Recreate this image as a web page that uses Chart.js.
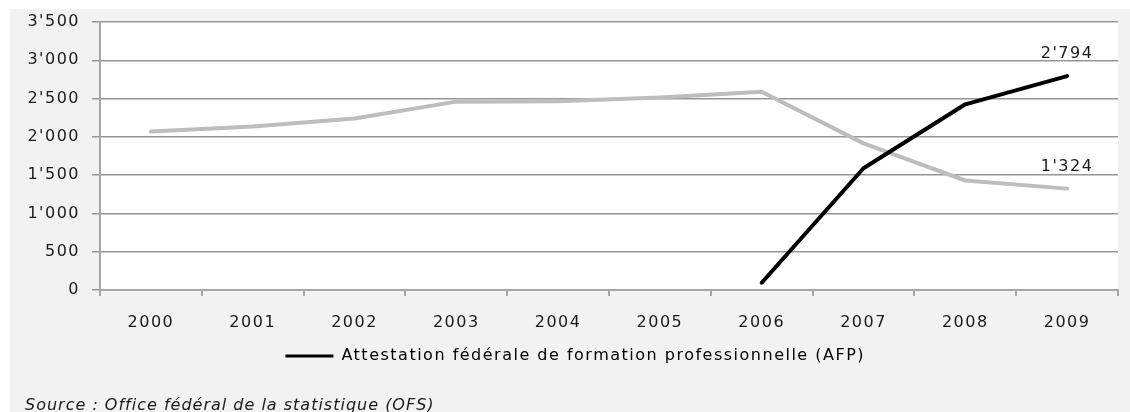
<!DOCTYPE html>
<html>
<head>
<meta charset="utf-8">
<script src="https://cdn.jsdelivr.net/npm/chart.js@4/dist/chart.umd.min.js"></script>
<style>
  html, body { margin: 0; padding: 0; background: #ffffff; }
  #wrap { position: relative; width: 1130px; height: 412px; overflow: hidden; }
  #chart { position: absolute; left: 0; top: 0; }
  #source {
    position: absolute; left: 25px; top: 395px;
    font-family: "DejaVu Sans", sans-serif; font-style: italic; font-size: 16px;
    color: #1a1a1a; letter-spacing: 1px; white-space: nowrap;
  }
</style>
</head>
<body>
<div id="wrap">
  <canvas id="chart" width="1130" height="412"></canvas>
  <div id="source">Source : Office fédéral de la statistique (OFS)</div>
</div>
<script>
// Years on the horizontal axis
const years = ['2000', '2001', '2002', '2003', '2004', '2005', '2006', '2007', '2008', '2009'];

// Grey series (no legend entry)
const greySeries = [2070, 2135, 2240, 2460, 2465, 2515, 2590, 1915, 1430, 1324];

// Attestation fédérale de formation professionnelle (AFP)
const afpSeries = [null, null, null, null, null, null, 95, 1590, 2425, 2794];
const afpLabel = 'Attestation fédérale de formation professionnelle (AFP)';

// Vertical axis
const yMin = 0, yMax = 3500, yStep = 500;

const fmt = v => String(Math.round(v)).replace(/\B(?=(\d{3})+(?!\d))/g, "'");

const FONT = '"DejaVu Sans", sans-serif';
const TEXT = '#1a1a1a';

// Grey panel behind the chart, white plot area
const backdrop = {
  id: 'backdrop',
  beforeDraw(chart) {
    const { ctx, chartArea: a } = chart;
    ctx.save();
    ctx.fillStyle = '#ffffff';
    ctx.fillRect(0, 0, chart.width, chart.height);
    ctx.fillStyle = '#f2f2f2';
    ctx.fillRect(10, 9, chart.width - 10, chart.height - 9);
    ctx.fillStyle = '#ffffff';
    ctx.fillRect(a.left, a.top, a.right - a.left, a.bottom - a.top);
    ctx.restore();
    ctx.letterSpacing = '1.5px';
  }
};

// Nudge the legend a little to the left of the plot centre
const legendShift = {
  id: 'legendShift',
  afterLayout(chart) {
    if (chart.legend) {
      chart.legend.left -= 30;
      chart.legend.right -= 30;
    }
  }
};

// Value labels on the last point of each line
const endLabels = {
  id: 'endLabels',
  afterDatasetsDraw(chart) {
    const { ctx } = chart;
    ctx.save();
    ctx.font = '16px ' + FONT;
    ctx.fillStyle = TEXT;
    ctx.textAlign = 'center';
    ctx.textBaseline = 'middle';
    chart.data.datasets.forEach((ds, i) => {
      const meta = chart.getDatasetMeta(i);
      const idx = ds.data.length - 1;
      const pt = meta.data[idx];
      if (!pt || ds.data[idx] == null) return;
      ctx.fillText(fmt(ds.data[idx]), pt.x, pt.y - 22);
    });
    ctx.restore();
  }
};

new Chart(document.getElementById('chart'), {
  type: 'line',
  data: {
    labels: years,
    datasets: [
      {
        label: afpLabel,
        data: afpSeries,
        borderColor: '#000000',
        backgroundColor: '#000000',
        borderWidth: 4,
        pointRadius: 0,
        borderCapStyle: 'round',
        borderJoinStyle: 'round',
        spanGaps: false,
        tension: 0
      },
      {
        label: 'grey',
        data: greySeries,
        borderColor: '#bdbdbd',
        backgroundColor: '#bdbdbd',
        borderWidth: 4,
        pointRadius: 0,
        borderCapStyle: 'round',
        borderJoinStyle: 'round',
        tension: 0
      }
    ]
  },
  options: {
    responsive: false,
    animation: false,
    devicePixelRatio: 1,
    layout: { padding: { left: 10, right: 12, top: 22, bottom: 38 } },
    plugins: {
      tooltip: { enabled: false },
      title: { display: false },
      legend: {
        display: true,
        position: 'bottom',
        labels: {
          font: { family: FONT, size: 16 },
          color: TEXT,
          boxWidth: 48,
          boxHeight: 3,
          padding: 8,
          generateLabels() {
            return [{
              text: afpLabel,
              fillStyle: '#000000',
              strokeStyle: '#000000',
              lineWidth: 0,
              datasetIndex: 0,
              hidden: false
            }];
          }
        }
      }
    },
    scales: {
      x: {
        type: 'category',
        offset: true,
        afterFit(scale) { scale.height = 50; },
        grid: {
          offset: true,
          drawOnChartArea: false,
          drawTicks: true,
          tickLength: 6,
          color: '#a6a6a6',
          lineWidth: 2
        },
        border: { display: true, color: '#a6a6a6', width: 2 },
        ticks: {
          font: { family: FONT, size: 16 },
          color: TEXT,
          padding: 17,
          maxRotation: 0
        }
      },
      y: {
        min: yMin,
        max: yMax,
        afterFit(scale) { scale.width = 90; },
        grid: {
          drawOnChartArea: true,
          drawTicks: true,
          tickLength: 8,
          color: '#969696',
          lineWidth: 1.5
        },
        border: { display: true, color: '#a6a6a6', width: 2 },
        ticks: {
          stepSize: yStep,
          font: { family: FONT, size: 16 },
          color: TEXT,
          padding: 12,
          callback: v => fmt(v)
        }
      }
    }
  },
  plugins: [backdrop, legendShift, endLabels]
});
</script>
</body>
</html>
